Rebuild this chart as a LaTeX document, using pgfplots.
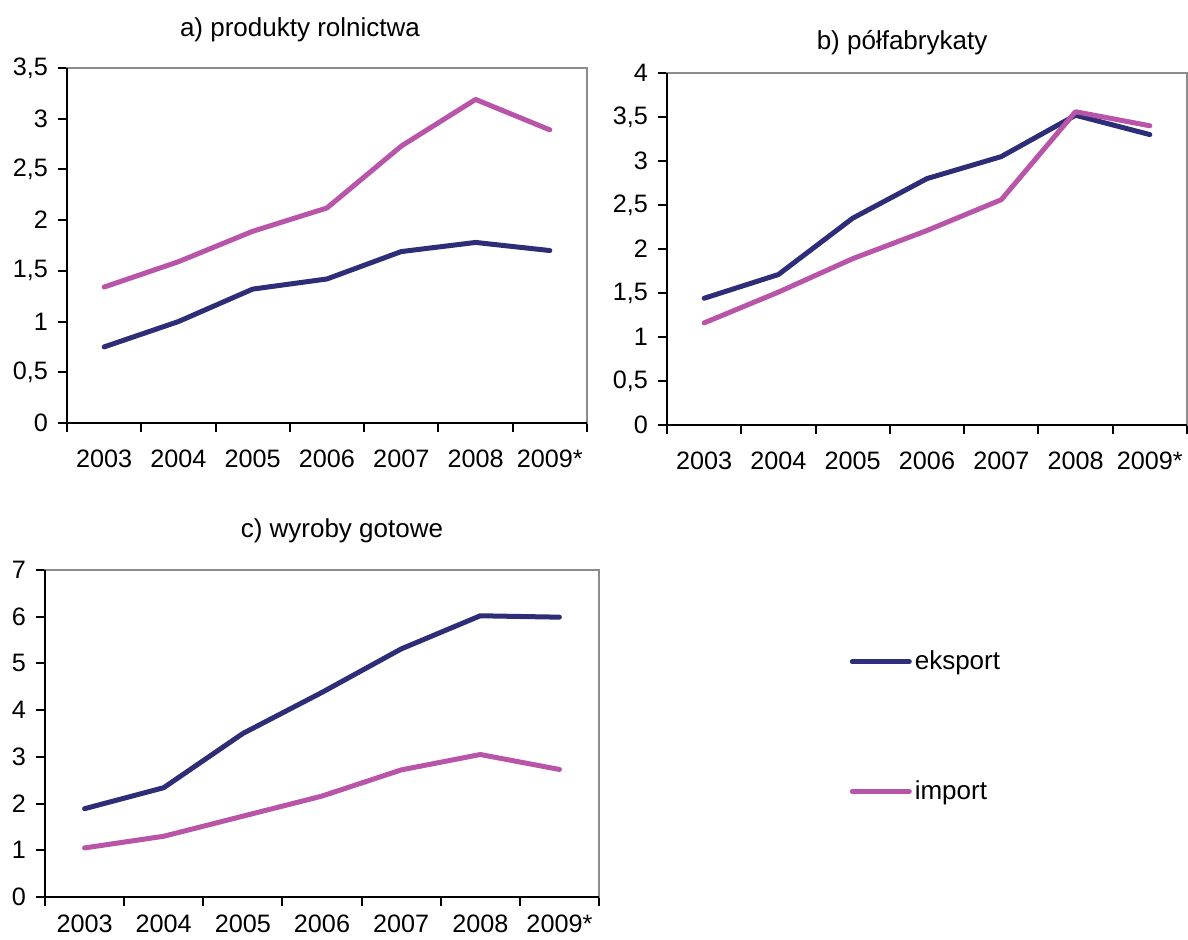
\documentclass[border=0pt]{standalone}
\usepackage{fontspec}
\setmainfont{Liberation Sans}
\usepackage{pgfplots}
\pgfplotsset{compat=1.18}
\definecolor{eks}{RGB}{46,46,120}
\definecolor{imp}{RGB}{185,85,168}
\definecolor{framegray}{RGB}{140,140,140}
\pgfplotsset{
  panel/.style={
    scale only axis, anchor=south west,
    xmin=-0.5, xmax=6.5,
    xtick={-0.5,0.5,1.5,2.5,3.5,4.5,5.5,6.5},
    xticklabels={},
    extra x ticks={0,1,2,3,4,5,6},
    extra x tick labels={2003,2004,2005,2006,2007,2008,2009*},
    extra x tick style={major tick length=0pt},
    tick align=outside, tick pos=left,
    major tick length=4.5pt,
    tick style={black, line width=1pt},
    axis line style={framegray, line width=1pt},
    tick label style={font=\fontsize{12.6}{14}\selectfont},
    yticklabel style={xshift=-1.5pt},
    /pgf/number format/use comma,
    /pgf/number format/assume math mode=true,
    every axis title shift=0pt,
    title style={font=\fontsize{13}{15}\selectfont, anchor=base},
    after end axis/.code={\draw[black, line width=1pt] (rel axis cs:0,1) -- (rel axis cs:0,0) -- (rel axis cs:1,0);},
  },
  eksp/.style={color=eks, line width=2.5pt, line join=round, line cap=round, mark=none},
  impo/.style={color=imp, line width=2.5pt, line join=round, line cap=round, mark=none},
}
\begin{document}
\begin{tikzpicture}[x=1pt,y=1pt]
\path[use as bounding box] (0,0) rectangle (594,470);
% a)
\begin{axis}[panel, at={(33.5pt,258.5pt)}, width=260pt, height=177.5pt,
  ymin=0, ymax=3.5, ytick={0,0.5,1,1.5,2,2.5,3,3.5},
  extra x tick style={xticklabel style={yshift=-10pt}},
  title={a) produkty rolnictwa}, title style={at={(0.448,1.090)}}]
\addplot[eksp] coordinates {(0,0.75)(1,1.00)(2,1.32)(3,1.42)(4,1.69)(5,1.78)(6,1.70)};
\addplot[impo] coordinates {(0,1.34)(1,1.59)(2,1.89)(3,2.12)(4,2.73)(5,3.19)(6,2.89)};
\end{axis}
% b)
\begin{axis}[panel, at={(333.5pt,257.5pt)}, width=260pt, height=176pt,
  ymin=0, ymax=4, ytick={0,0.5,1,1.5,2,2.5,3,3.5,4},
  extra x tick style={xticklabel style={yshift=-10pt}},
  title={b) półfabrykaty}, title style={at={(0.452,1.068)}}]
\addplot[eksp] coordinates {(0,1.44)(1,1.71)(2,2.35)(3,2.80)(4,3.05)(5,3.52)(6,3.30)};
\addplot[impo] coordinates {(0,1.16)(1,1.51)(2,1.89)(3,2.21)(4,2.56)(5,3.56)(6,3.40)};
\end{axis}
% c)
\begin{axis}[panel, at={(22.5pt,21.5pt)}, width=277pt, height=163.5pt,
  ymin=0, ymax=7, ytick={0,1,2,3,4,5,6,7},
  extra x tick style={xticklabel style={yshift=-5.5pt}},
  title={c) wyroby gotowe}, title style={at={(0.536,1.098)}},
  legend image code/.code={\draw[#1] (0pt,0pt) -- (28.5pt,0pt);},
  legend style={draw=none, fill=none, at={(1.452,0.521)}, anchor=west,
    inner sep=0pt, row sep=54pt, font=\fontsize{13}{15}\selectfont,
    nodes={inner sep=0pt}, /tikz/every odd column/.append style={column sep=1.5pt}},
  legend cell align=left]
\addplot[eksp] coordinates {(0,1.89)(1,2.34)(2,3.50)(3,4.38)(4,5.31)(5,6.02)(6,5.99)};
\addplot[impo] coordinates {(0,1.05)(1,1.30)(2,1.73)(3,2.16)(4,2.72)(5,3.05)(6,2.73)};
\legend{eksport,import}
\end{axis}
\end{tikzpicture}
\end{document}
